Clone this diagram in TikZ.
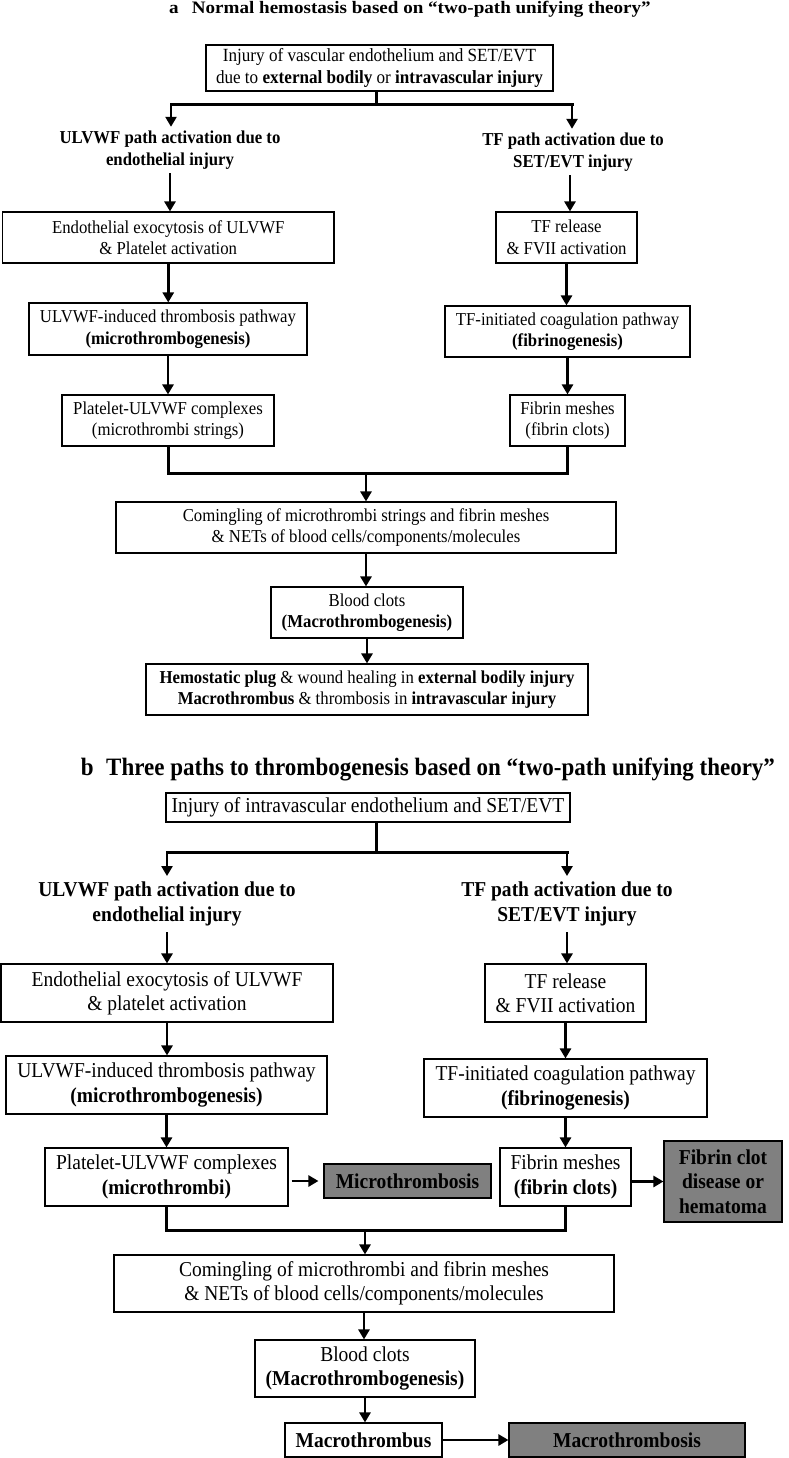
\documentclass[tikz,border=0pt]{standalone}
\usepackage{fontspec}
\setmainfont{Liberation Serif}[FakeStretch=0.92]
\newfontfamily\tafont{Liberation Serif}[FakeStretch=1.09]
\usetikzlibrary{arrows.meta}
\definecolor{grayfill}{RGB}{128,128,128}
\tikzset{
  box/.style={draw=black, line width=1.1pt, fill=white, align=center, inner sep=0pt},
  gbox/.style={box, fill=grayfill, font=\bfseries},
  fa/.style={font=\fontsize{18.2}{21.5}\selectfont},
  fb/.style={font=\fontsize{21.2}{24.3}\selectfont},
  fga/.style={font=\bfseries\fontsize{21.2}{24.3}\selectfont},
  hdra/.style={align=center, inner sep=4pt, font=\bfseries\fontsize{18.2}{21.5}\selectfont},
  hdrb/.style={align=center, inner sep=6pt, font=\bfseries\fontsize{21.2}{24.3}\selectfont},
  conn/.style={line width=3pt, line cap=rect},
  arr/.style={line width=2.6pt, -{Triangle[length=10pt,width=11pt]}},
}
\begin{document}
\begin{tikzpicture}[x=1pt,y=-1pt]
\useasboundingbox (0,0) rectangle (788,1458);

% ---------------- Part a ----------------
\node[anchor=base, font=\tafont\bfseries\fontsize{17.5}{21}\selectfont] (ta) at (410,14)
  {a\hspace{0.75em}Normal hemostasis based on “two-path unifying theory”};

\node[box, font=\fontsize{18.6}{21.5}\selectfont, minimum width=347pt, minimum height=46pt] (a0) at (379.5,68)
  {Injury of vascular endothelium and SET/EVT\\due to \textbf{external bodily} or \textbf{intravascular injury}};

\coordinate (ja) at (376,105);
\coordinate (jaL) at (171,105);
\coordinate (jaR) at (572,105);

\node[hdra] (hLa) at (170,150) {ULVWF path activation due to\\endothelial injury};
\node[hdra] (hRa) at (573,152) {TF path activation due to\\SET/EVT injury};

\node[box, fa, minimum width=331.5pt, minimum height=51pt] (a1L) at (168.25,237.5)
  {Endothelial exocytosis of ULVWF\\\& Platelet activation};
\node[box, fa, minimum width=141pt, minimum height=51pt] (a1R) at (566.5,237.5)
  {TF release\\\& FVII activation};
\node[box, fa, minimum width=278pt, minimum height=52pt] (a2L) at (168,329)
  {ULVWF-induced thrombosis pathway\\\textbf{(microthrombogenesis)}};
\node[box, fa, minimum width=245pt, minimum height=51pt] (a2R) at (567.5,331.5)
  {TF-initiated coagulation pathway\\\textbf{(fibrinogenesis)}};
\node[box, fa, minimum width=212pt, minimum height=51pt] (a3L) at (168,420.5)
  {Platelet-ULVWF complexes\\(microthrombi strings)};
\node[box, fa, minimum width=115pt, minimum height=51pt] (a3R) at (567.5,420.5)
  {Fibrin meshes\\(fibrin clots)};
\coordinate (jb) at (366,473);
\node[box, fa, minimum width=500pt, minimum height=51pt] (a4) at (366,527.5)
  {Comingling of microthrombi strings and fibrin meshes\\\& NETs of blood cells/components/molecules};
\node[box, fa, minimum width=192pt, minimum height=51pt] (a5) at (367,612.5)
  {Blood clots\\\textbf{(Macrothrombogenesis)}};
\node[box, fa, minimum width=442pt, minimum height=51pt] (a6) at (367,689.5)
  {\textbf{Hemostatic plug} \& wound healing in \textbf{external bodily injury}\\\textbf{Macrothrombus} \& thrombosis in \textbf{intravascular injury}};

\draw[conn] (a0.south -| ja) -- (ja);
\draw[conn] (jaL) -- (jaR);
\draw[arr] (jaL) -- (jaL |- hLa.north);
\draw[arr] (jaR) -- (jaR |- hRa.north);
\draw[arr] (hLa.south) -- (hLa.south |- a1L.north);
\draw[arr] (hRa.south -| 570,0) -- (570,0 |- a1R.north);
\draw[arr] (a1L.south) -- (a1L.south |- a2L.north);
\draw[arr] (a1R.south) -- (a1R.south |- a2R.north);
\draw[arr] (a2L.south) -- (a2L.south |- a3L.north);
\draw[arr] (a2R.south) -- (a2R.south |- a3R.north);
\draw[line width=3pt] (a3L.south) |- (jb) -| (a3R.south);
\draw[arr] (jb) -- (jb |- a4.north);
\draw[arr] (a4.south) -- (a4.south |- a5.north);
\draw[arr] (a5.south) -- (a5.south |- a6.north);

% ---------------- Part b ----------------
\node[anchor=base, font=\bfseries\fontsize{25}{28}\selectfont] (tb) at (428,775)
  {b\hspace{0.5em}Three paths to thrombogenesis based on “two-path unifying theory”};

\node[box, fb, minimum width=404pt, minimum height=29pt] (b0) at (368,807.5)
  {Injury of intravascular endothelium and SET/EVT};
\coordinate (jc) at (376,852);
\coordinate (jcL) at (167,852);
\coordinate (jcR) at (567,852);

\node[hdrb] (hLb) at (167,904) {ULVWF path activation due to\\endothelial injury};
\node[hdrb] (hRb) at (567,904) {TF path activation due to\\SET/EVT injury};

\node[box, fb, minimum width=332pt, minimum height=58pt] (b1L) at (167,993)
  {Endothelial exocytosis of ULVWF\\\& platelet activation};
\node[box, fb, minimum width=161pt, minimum height=58pt] (b1R) at (565.5,993)
  {TF release\\\& FVII activation};
\node[box, fb, minimum width=321pt, minimum height=58pt] (b2L) at (166.5,1085)
  {ULVWF-induced thrombosis pathway\\\textbf{(microthrombogenesis)}};
\node[box, fb, minimum width=283pt, minimum height=58pt] (b2R) at (565.5,1088)
  {TF-initiated coagulation pathway\\\textbf{(fibrinogenesis)}};
\node[box, fb, minimum width=243pt, minimum height=58pt] (b3L) at (166.5,1177)
  {Platelet-ULVWF complexes\\\textbf{(microthrombi)}};
\node[gbox, fga, minimum width=167pt, minimum height=34pt] (gm) at (407.5,1181)
  {Microthrombosis};
\node[box, fb, minimum width=131pt, minimum height=58pt] (b3R) at (565.5,1177)
  {Fibrin meshes\\\textbf{(fibrin clots)}};
\node[gbox, fga, minimum width=118pt, minimum height=81pt] (gf) at (723,1181.5)
  {Fibrin clot\\disease or\\hematoma};
\coordinate (jd) at (365,1230);
\node[box, fb, minimum width=500pt, minimum height=57pt] (b4) at (364,1283.5)
  {Comingling of microthrombi and fibrin meshes\\\& NETs of blood cells/components/molecules};
\node[box, fb, minimum width=220pt, minimum height=57pt] (b5) at (365,1368.5)
  {Blood clots\\\textbf{(Macrothrombogenesis)}};
\node[box, fga, minimum width=157pt, minimum height=34pt] (b6) at (363.5,1440)
  {Macrothrombus};
\node[gbox, fga, minimum width=236pt, minimum height=34pt] (gM) at (627,1440)
  {Macrothrombosis};

\draw[conn] (b0.south -| jc) -- (jc);
\draw[conn] (jcL) -- (jcR);
\draw[arr] (jcL) -- (jcL |- hLb.north);
\draw[arr] (jcR) -- (jcR |- hRb.north);
\draw[arr] (hLb.south) -- (hLb.south |- b1L.north);
\draw[arr] (hRb.south) -- (hRb.south |- b1R.north);
\draw[arr] (b1L.south) -- (b1L.south |- b2L.north);
\draw[arr] (b1R.south) -- (b1R.south |- b2R.north);
\draw[arr] (b2L.south) -- (b2L.south |- b3L.north);
\draw[arr] (b2R.south) -- (b2R.south |- b3R.north);
\draw[arr, shorten <=3pt, shorten >=5pt] (b3L.east |- gm.west) -- (gm.west);
\draw[arr] (b3R.east |- gf.west) -- (gf.west);
\draw[line width=3pt] (b3L.south) |- (jd) -| (b3R.south);
\draw[arr] (jd) -- (jd |- b4.north);
\draw[arr] (b4.south) -- (b4.south |- b5.north);
\draw[arr] (b5.south) -- (b5.south |- b6.north);
\draw[arr] (b6.east) -- (gM.west);
\end{tikzpicture}
\end{document}
